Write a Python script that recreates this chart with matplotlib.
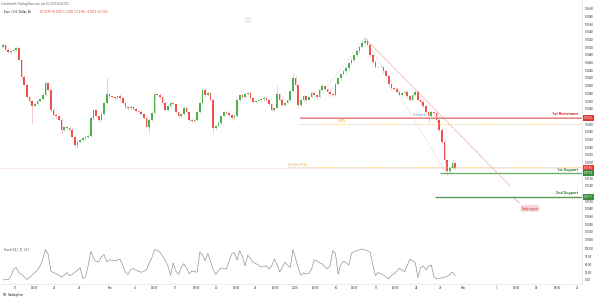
import matplotlib
matplotlib.use("Agg")
import matplotlib.pyplot as plt
import matplotlib.transforms as mtransforms
from matplotlib.patches import FancyBboxPatch

plt.rcParams['font.family'] = ['Roboto', 'DejaVu Sans']

# ---------------- data (prices in pips: 1e-4) ----------------
first_open_pips = 10500
closes_pips = [
    10506, 10493, 10488, 10490, 10493, 10498, 10467, 10423, 10402, 10371,
    10360, 10347, 10352, 10360, 10365, 10376, 10407, 10389, 10337, 10324,
    10321, 10311, 10285, 10293, 10290, 10285, 10267, 10246, 10254, 10259,
    10264, 10267, 10269, 10316, 10337, 10321, 10311, 10327, 10355, 10378,
    10373, 10371, 10368, 10373, 10368, 10355, 10345, 10342, 10345, 10340,
    10334, 10332, 10327, 10316, 10293, 10311, 10329, 10378, 10376, 10371,
    10355, 10337, 10347, 10355, 10352, 10332, 10321, 10327, 10342, 10332,
    10311, 10308, 10311, 10332, 10355, 10389, 10376, 10381, 10363, 10290,
    10295, 10303, 10321, 10332, 10329, 10324, 10316, 10321, 10363, 10376,
    10371, 10378, 10381, 10368, 10358, 10360, 10363, 10365, 10368, 10363,
    10352, 10337, 10342, 10378, 10363, 10350, 10355, 10363, 10386, 10420,
    10402, 10350, 10363, 10373, 10363, 10371, 10381, 10376, 10371, 10389,
    10399, 10391, 10384, 10378, 10376, 10404, 10420, 10430, 10438, 10446,
    10459, 10467, 10480, 10490, 10501, 10511, 10516, 10506, 10480, 10462,
    10449, 10449, 10449, 10438, 10425, 10404, 10394, 10391, 10384, 10376,
    10381, 10384, 10373, 10363, 10376, 10384, 10363, 10358, 10347, 10332,
    10321, 10332, 10329, 10311, 10285, 10254, 10207, 10178, 10186, 10199,
    10186,
]
wick_up_pips = [
    4, 3, 5, 2, 4, 6, 3, 2, 4, 5,
    3, 4, 2, 5, 3, 4, 6, 3, 2, 4,
    5, 3, 4, 2, 3, 5, 4, 3, 6, 2,
    4, 3, 5, 4, 3, 2, 4, 5, 3, 42,
    3, 4, 2, 3, 5, 4, 3, 2, 4, 3,
    5, 3, 4, 2, 3, 4, 5, 6, 3, 4,
    2, 4, 3, 5, 3, 4, 2, 3, 5, 4,
    3, 4, 2, 5, 3, 6, 4, 3, 2, 4,
    3, 5, 4, 2, 3, 4, 3, 5, 4, 3,
    2, 4, 3, 5, 3, 4, 2, 3, 4, 5,
    3, 4, 2, 21, 3, 4, 5, 3, 4, 13,
    4, 3, 5, 2, 4, 3, 5, 4, 3, 2,
    6, 3, 4, 5, 3, 4, 2, 3, 4, 5,
    3, 4, 2, 5, 3, 4, 8, 5, 3, 4,
    6, 3, 4, 2, 5, 3, 4, 3, 5, 4,
    3, 4, 5, 2, 3, 4, 5, 3, 4, 3,
    4, 5, 3, 4, 6, 5, 4, 3, 6, 8,
    4,
]
wick_dn_pips = [
    3, 4, 2, 5, 3, 4, 2, 6, 3, 4,
    5, 43, 3, 4, 2, 5, 3, 4, 6, 3,
    4, 2, 8, 3, 5, 4, 3, 6, 4, 3,
    2, 5, 4, 3, 4, 2, 5, 3, 4, 3,
    4, 3, 5, 2, 4, 3, 5, 4, 3, 2,
    3, 5, 4, 3, 4, 16, 3, 2, 4, 5,
    3, 4, 2, 5, 3, 4, 6, 3, 4, 2,
    5, 3, 4, 2, 3, 4, 5, 3, 4, 13,
    4, 3, 5, 2, 4, 3, 4, 5, 3, 4,
    3, 2, 4, 5, 3, 4, 3, 2, 5, 4,
    4, 3, 5, 2, 4, 3, 4, 3, 5, 2,
    3, 8, 4, 3, 5, 2, 4, 3, 5, 4,
    3, 4, 2, 5, 3, 4, 3, 5, 2, 4,
    4, 3, 5, 2, 4, 3, 4, 3, 5, 4,
    3, 4, 2, 5, 3, 4, 6, 3, 4, 2,
    4, 3, 5, 2, 4, 3, 4, 5, 3, 4,
    15, 3, 4, 5, 6, 5, 7, 10, 4, 3,
    5,
]
stoch_k = [
    0, 1, 2, 12, 35, 40, 22, 18, 10, 2,
    8, 16, 24, 32, 46, 68, 98, 82, 28, 24,
    20, 16, 9, 15, 24, 14, 18, 25, 31, 40,
    4, 10, 45, 92, 72, 60, 58, 75, 82, 58,
    65, 64, 62, 64, 67, 48, 25, 18, 34, 37,
    31, 28, 25, 28, 34, 55, 73, 98, 95, 89,
    77, 64, 45, 15, 55, 28, 18, 40, 53, 38,
    20, 29, 27, 25, 90, 80, 62, 86, 60, 34,
    18, 30, 39, 37, 35, 60, 85, 88, 65, 95,
    75, 46, 80, 70, 57, 53, 48, 42, 43, 46,
    35, 45, 68, 50, 26, 40, 57, 48, 40, 98,
    70, 38, 15, 23, 19, 22, 35, 65, 62, 55,
    52, 42, 36, 46, 95, 85, 18, 50, 60, 56,
    48, 86, 91, 95, 97, 100, 97, 94, 90, 50,
    14, 24, 20, 16, 9, 3, 14, 20, 28, 38,
    32, 26, 48, 67, 62, 55, 8, 40, 45, 32,
    45, 48, 12, 3, 5, 7, 9, 12, 18, 26,
    14,
]

price_tick_labels = [
    "1.0600", "1.0580", "1.0560", "1.0540", "1.0520", "1.0500", "1.0480",
    "1.0460", "1.0440", "1.0420", "1.0400", "1.0380", "1.0360", "1.0340",
    "1.0320", "1.0300", "1.0280", "1.0260", "1.0240", "1.0220", "1.0200",
    "1.0180", "1.0160", "1.0140", "1.0120", "1.0100", "1.0080", "1.0060",
    "1.0040", "1.0020", "1.0000",
]
stoch_tick_values = [100, 75, 50, 25, 0]
stoch_tick_labels = ["100.00", "75.00", "50.00", "25.00", "0.00"]

time_tick_bars = [4.5, 12, 19.4, 28.6, 40.2, 49.6, 57.1, 65.0, 72.6, 80.1,
                  87.6, 95.1, 102.6, 109.8, 117.3, 125.2, 132.3, 140.2, 147.7,
                  155.3, 164.3, 172.9, 185.7, 192.9, 200.4, 208.3, 215.8]
time_tick_labels = ["11", "14:00", "22", "25", "Dec", "4", "14:00", "11",
                    "18:00", "20", "14:00", "27", "14:00", "2025", "14:00",
                    "10", "14:00", "17", "14:00", "24", "27", "Feb", "7",
                    "14:00", "14", "18:00", "21"]

resistance_1 = 1.0316
support_1 = 1.0173
support_2 = 1.0111
fib_level_a = 1.0300
fib_level_b = 1.0190
level_start_bar = {"res1": 111.7, "fibA": 111.7, "fibB": 107.0,
                   "sup1": 164.3, "sup2": 162.5}
trend_end = (190.6, 1.0140)
swing_left = (118.0, 1.0363)

# ---------------- derived ----------------
closes = [c / 10000 for c in closes_pips]
opens = [first_open_pips / 10000] + closes[:-1]
highs = [max(o, c) + u / 10000 for o, c, u in zip(opens, closes, wick_up_pips)]
lows = [min(o, c) - d / 10000 for o, c, d in zip(opens, closes, wick_dn_pips)]
idx = list(range(len(closes)))

UP, DN = '#4caf50', '#ef5350'
UPW, DNW = '#9ccf9e', '#f3a09e'

W, H = 600, 299
fig = plt.figure(figsize=(W / 100, H / 100), dpi=100, facecolor='white')


def rect(x0, y0, x1, y1):
    return [x0 / W, 1 - y1 / H, (x1 - x0) / W, (y1 - y0) / H]


XLIM = (-1.128, 217.67)
ax = fig.add_axes(rect(0, 0, 582, 244))
ax.set_xlim(*XLIM)
ax.set_ylim(0.99888, 1.06226)

colors = [UP if c >= o else DN for o, c in zip(opens, closes)]
wcolors = [UPW if c >= o else DNW for o, c in zip(opens, closes)]
ax.vlines(idx, lows, highs, colors=wcolors, lw=0.4, zorder=2)
ax.bar(idx, [abs(c - o) for o, c in zip(opens, closes)],
       bottom=[min(o, c) for o, c in zip(opens, closes)],
       width=0.62, color=colors, linewidth=0, zorder=3)

right_edge = XLIM[1]
# levels
ax.hlines(resistance_1, level_start_bar["res1"], right_edge, color='#e06666', lw=1.1, zorder=4)
ax.hlines(resistance_1 + 0.0003, level_start_bar["res1"], right_edge, color='#f4c7c7', lw=0.5, zorder=4)
ax.hlines(fib_level_a, level_start_bar["fibA"], right_edge, color='#f0b44c', lw=0.5, ls=(0, (1.5, 1.5)), zorder=4)
ax.hlines(fib_level_b, level_start_bar["fibB"], right_edge, color='#f0b44c', lw=0.5, ls=(0, (1.5, 1.5)), zorder=4)
ax.axhline(closes[-1], color='#ef9a9a', lw=0.4, ls=(0, (1, 1.5)), zorder=4)
ax.hlines(support_1, level_start_bar["sup1"], right_edge, color='#6fb36f', lw=1.0, zorder=4)
ax.hlines(support_2, level_start_bar["sup2"], right_edge, color='#5a9a5a', lw=1.0, zorder=4)

# trend / fib diagonals
peak_i = max(idx, key=lambda i: highs[i])
low_i = min(idx[peak_i:], key=lambda i: lows[i])
ax.plot([peak_i, trend_end[0]], [highs[peak_i], trend_end[1]], color='#e88a8a',
        lw=0.5, ls=(0, (2, 1)), zorder=4)
ax.plot([peak_i, low_i], [highs[peak_i], lows[low_i]], color='#c8c8c8', lw=0.4,
        ls=(0, (2, 1.5)), zorder=1)
ax.plot([swing_left[0], peak_i], [swing_left[1], highs[peak_i]], color='#d0d0d0',
        lw=0.4, ls=(0, (2, 1.5)), zorder=1)

# level texts
blend = mtransforms.blended_transform_factory(ax.transAxes, ax.transData)
ax.text(0.993, resistance_1 + 0.0004, "1st Resistance", transform=blend, ha='right',
        va='bottom', fontsize=2.9, color='#c62828', fontweight='bold')
ax.text(0.993, support_1 + 0.0004, "1st Support", transform=blend, ha='right',
        va='bottom', fontsize=2.9, color='#2e7d32', fontweight='bold')
ax.text(0.993, support_2 + 0.0004, "2nd Support", transform=blend, ha='right',
        va='bottom', fontsize=2.9, color='#2e7d32', fontweight='bold')
ax.text(126, fib_level_a + 0.0002, "61.80%", fontsize=1.8, color='#e0a030', va='bottom')
ax.text(107, fib_level_b + 0.0001, "161.80% (1.0190)", fontsize=1.8, color='#e0a030', va='bottom')
ax.text(154, resistance_1 + 0.0002, "Pullback res.", fontsize=1.8, color='#5b8bd6', va='bottom')

# pink note box
ax.plot([trend_end[0] + 1.5, trend_end[0] + 3.5], [support_2 - 0.0003, support_2 - 0.0015],
        color='#e88a8a', lw=0.4)
ax.text(trend_end[0] + 7.5, support_2 - 0.0030, "Daily support", fontsize=2.0,
        color='#c62828', ha='center', va='center',
        bbox=dict(boxstyle='round,pad=0.5,rounding_size=0.6', fc='#f9d6d8', ec='none'))

# price axis
ax.yaxis.tick_right()
tick_vals = [float(t) for t in price_tick_labels]
boxes = [(resistance_1, '#e53935'), (closes[-1], '#e53935'), (support_1, '#388e3c'),
         (support_2, '#388e3c')]
shown = []
for v, lab in zip(tick_vals, price_tick_labels):
    hide = any(abs(v - b) < 0.0009 for b, _ in boxes)
    shown.append('' if hide else lab)
ax.set_yticks(tick_vals)
ax.set_yticklabels(shown)
ax.tick_params(axis='y', length=0, pad=2.2, labelsize=2.2, labelcolor='#333333')
ax.set_xticks([])
for b, col in boxes:
    ax.text(1.0035, b, f"{b:.4f}", transform=blend, ha='left', va='center',
            fontsize=2.2, color='white', clip_on=False, zorder=6,
            bbox=dict(boxstyle='square,pad=0.35', fc=col, ec='none'))
for s in ['top', 'left']:
    ax.spines[s].set_visible(False)
ax.spines['right'].set_color('#e0e3eb')
ax.spines['bottom'].set_color('#e0e3eb')
ax.spines['right'].set_linewidth(0.5)
ax.spines['bottom'].set_linewidth(0.5)

# ---------------- stochastic pane ----------------
ax2 = fig.add_axes(rect(0, 244, 582, 284))
ax2.set_xlim(*XLIM)
ax2.set_ylim(-13, 116)
ax2.plot(idx, stoch_k, color='#8a8a8a', lw=0.45)
ax2.yaxis.tick_right()
ax2.set_yticks(stoch_tick_values)
ax2.set_yticklabels(stoch_tick_labels)
ax2.tick_params(axis='y', length=0, pad=2.2, labelsize=2.2, labelcolor='#333333')
ax2.set_xticks(time_tick_bars)
ax2.set_xticklabels(time_tick_labels)
ax2.tick_params(axis='x', length=0, pad=1.3, labelsize=2.2, labelcolor='#333333')
for s in ['top', 'left']:
    ax2.spines[s].set_visible(False)
for s in ['right', 'bottom']:
    ax2.spines[s].set_color('#e0e3eb')
    ax2.spines[s].set_linewidth(0.5)
ax2.text(0.007, 0.88, "Stoch (14, 1, 3)  14.7", transform=ax2.transAxes, fontsize=2.0,
         color='#444444', va='center')

# ---------------- header / footer ----------------
fig.text(1 / W, 1 - 3.5 / H, "Created with TradingView.com, Jan 30, 2025 04:36 UTC",
         fontsize=2.0, color='#666666', va='center')
fig.text(4 / W, 1 - 11.5 / H, "Euro / U.S. Dollar, 4h", fontsize=2.1, color='#222222',
         va='center')
fig.text(40 / W, 1 - 11.5 / H,
         "O1.0199  H1.0207  L1.0181  C1.0186  \u22120.0013 (\u22120.13%)",
         fontsize=2.0, color='#e53935', va='center')
fig.text(3 / W, 1 - 295 / H, "TV", fontsize=2.2, fontweight='bold', color='#222222',
         va='center')
fig.text(8 / W, 1 - 295 / H, "TradingView", fontsize=2.0, color='#222222', va='center')
fig.patches.append(FancyBboxPatch((246 / W, 1 - 22 / H), 4 / W, 4 / H,
                                  boxstyle='round,pad=0,rounding_size=0.003',
                                  transform=fig.transFigure, fc='none', ec='#bbbbbb',
                                  lw=0.4))

fig.savefig("out.png", dpi=100, facecolor='white')
